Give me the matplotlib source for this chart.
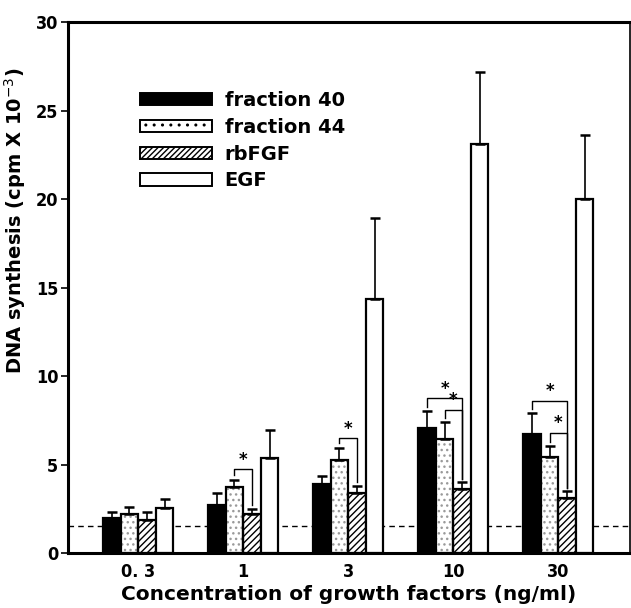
import matplotlib
matplotlib.use("Agg")
import matplotlib.pyplot as plt
import numpy as np
from matplotlib.font_manager import FontProperties
from matplotlib.patches import Patch

plt.rcParams['hatch.linewidth'] = 1.0

concentrations = ["0.3", "1", "3", "10", "30"]
tick_labels = ["0. 3", "1", "3", "10", "30"]
series_names = ["fraction 40", "fraction 44", "rbFGF", "EGF"]
fraction40 = [2.0, 2.7, 3.9, 7.05, 6.75]
fraction40_err = [0.3, 0.7, 0.45, 0.95, 1.15]
fraction44 = [2.2, 3.75, 5.25, 6.45, 5.4]
fraction44_err = [0.4, 0.4, 0.7, 0.95, 0.65]
rbfgf = [1.85, 2.2, 3.4, 3.6, 3.1]
rbfgf_err = [0.45, 0.3, 0.4, 0.4, 0.4]
egf = [2.55, 5.35, 14.35, 23.1, 20.0]
egf_err = [0.5, 1.6, 4.6, 4.1, 3.6]
baseline = 1.5
y_ticks = [0, 5, 10, 15, 20, 25, 30]
# significance brackets: (group index, left series, right series, bracket height)
brackets = [(1, 1, 2, 4.75), (2, 1, 2, 6.5), (3, 0, 2, 8.75), (3, 1, 2, 8.1),
            (4, 0, 2, 8.6), (4, 1, 2, 6.8)]

values = [fraction40, fraction44, rbfgf, egf]
errors = [fraction40_err, fraction44_err, rbfgf_err, egf_err]

tick_font = FontProperties(family="DejaVu Sans", stretch="condensed", weight="bold", size=13)
label_font = FontProperties(family="DejaVu Sans", weight="bold", size=14)

fig = plt.figure(figsize=(6.31, 6.08), dpi=100)
ax = fig.add_axes([0.108, 0.0905, 0.89, 0.873])

x = np.arange(len(concentrations))
w = 0.167

ax.axhline(baseline, color="black", linestyle=(0, (4, 3)), linewidth=1.0, zorder=1)

offsets = (np.arange(4) - 1.5) * w
for i in range(4):
    xs = x + offsets[i]
    if i == 0:
        ax.bar(xs, values[i], width=w, facecolor="black", edgecolor="black",
               linewidth=1.6, zorder=2)
    elif i == 1:
        ax.bar(xs, values[i], width=w, facecolor="white", edgecolor="#9a9a9a",
               hatch="...", linewidth=0, zorder=2)
        ax.bar(xs, values[i], width=w, facecolor="none", edgecolor="black",
               linewidth=1.6, zorder=2.1)
    elif i == 2:
        ax.bar(xs, values[i], width=w, facecolor="white", edgecolor="black",
               hatch="/////", linewidth=1.6, zorder=2)
    else:
        ax.bar(xs, values[i], width=w, facecolor="white", edgecolor="black",
               linewidth=1.6, zorder=2)
    ax.errorbar(xs, values[i], yerr=[np.zeros(len(x)), errors[i]],
                fmt="none", ecolor="black", elinewidth=1.2, capsize=3.5,
                capthick=1.8, zorder=3)

for g, a, b, hgt in brackets:
    xa = x[g] + offsets[a]
    xb = x[g] + offsets[b]
    ya = values[a][g] + errors[a][g] + 0.25
    yb = values[b][g] + errors[b][g] + 0.2
    ax.plot([xa, xa, xb, xb], [ya, hgt, hgt, yb], color="black", linewidth=1.0, zorder=4)
    ax.text((xa + xb) / 2, hgt + 0.02, "*", ha="center", va="bottom",
            fontsize=12, fontweight="bold", family="DejaVu Sans")

ax.set_xlim(-0.667, 4.68)
ax.set_ylim(0, 30)
ax.set_yticks(y_ticks)
ax.set_yticklabels([str(t) for t in y_ticks], fontproperties=tick_font)
ax.set_xticks(x)
ax.set_xticklabels(tick_labels, fontproperties=tick_font)
ax.tick_params(axis="x", length=0, pad=7)
ax.tick_params(axis="y", length=5, width=1.2, direction="out", pad=2)

for s in ["left", "bottom", "top"]:
    ax.spines[s].set_linewidth(2.2)
ax.spines["right"].set_linewidth(1.2)

ax.set_xlabel("Concentration of growth factors (ng/ml)", fontproperties=FontProperties(
    family="DejaVu Sans", weight="bold", size=14.5), labelpad=3)
ax.set_ylabel("DNA synthesis (cpm X 10$^{-3}$)", fontproperties=label_font, labelpad=6)
ax.yaxis.set_label_coords(-0.072, 0.625)

# legend proxies
proxies = [
    Patch(facecolor="black", edgecolor="black", linewidth=1.4),
    Patch(facecolor="white", edgecolor="#9a9a9a", hatch="..", linewidth=1.4),
    Patch(facecolor="white", edgecolor="black", hatch="//////", linewidth=1.4),
    Patch(facecolor="white", edgecolor="black", linewidth=1.4),
]
leg = ax.legend(proxies, series_names, loc="upper left", bbox_to_anchor=(0.114, 0.885),
                frameon=False, prop=dict(family="DejaVu Sans", weight="bold", size=14),
                handlelength=3.7, handleheight=0.6, labelspacing=0.4,
                handletextpad=0.65, borderaxespad=0)
leg.get_patches()[1].set_edgecolor("black")

fig.savefig("out.png", dpi=100)
